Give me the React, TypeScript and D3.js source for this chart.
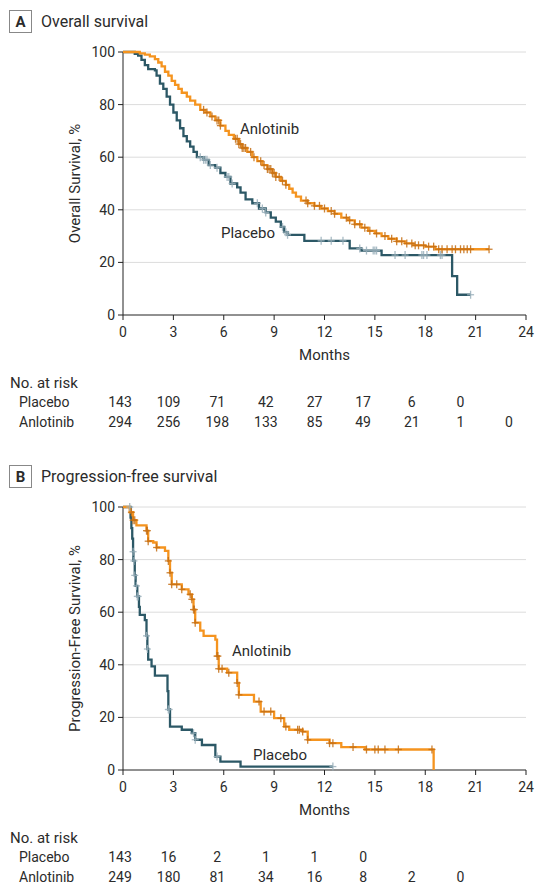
import React from "react";
import * as d3 from "d3";

// ---------- DATA ----------
const monthTicks = [0, 3, 6, 9, 12, 15, 18, 21, 24];
const pctTicks = [0, 20, 40, 60, 80, 100];
const gridTicks = [20, 40, 60, 80, 100];

// Panel A – overall survival, step points [month, %]
const osAnlotinib: [number, number][] = [
  [0, 100], [1.0, 99.5], [1.3, 99], [1.6, 98.3], [1.9, 97.3], [2.1, 96], [2.3, 94.5], [2.5, 92.5],
  [2.7, 91], [2.9, 89], [3.1, 87.5], [3.3, 86], [3.5, 84.5], [3.8, 83], [4.0, 81.5], [4.3, 80],
  [4.6, 78], [4.9, 77], [5.2, 75.5], [5.5, 74], [5.8, 72], [6.1, 70], [6.3, 68.5], [6.6, 67],
  [6.9, 65], [7.1, 63.5], [7.4, 62], [7.7, 60], [8.0, 58.5], [8.3, 57], [8.6, 55.5], [8.9, 54],
  [9.1, 52.5], [9.4, 51], [9.7, 49.5], [9.9, 48], [10.1, 46.5], [10.3, 45], [10.6, 43.5],
  [11.0, 42.5], [11.4, 41.5], [11.8, 40.5], [12.2, 39.5], [12.6, 38.5], [13.0, 37], [13.4, 36],
  [13.8, 34.5], [14.2, 33.2], [14.6, 32], [15.0, 31], [15.4, 30], [15.8, 29], [16.3, 28],
  [16.8, 27.2], [17.3, 26.5], [18.0, 26], [18.6, 25], [21.8, 25],
];
const osPlacebo: [number, number][] = [
  [0, 100], [0.7, 99.3], [0.9, 98.6], [1.1, 97], [1.3, 95], [1.5, 93.5], [1.9, 93], [2.0, 91],
  [2.2, 88], [2.4, 86], [2.6, 83], [2.8, 80], [3.0, 77], [3.2, 74], [3.4, 71], [3.6, 68],
  [3.8, 66], [4.0, 64], [4.2, 62], [4.4, 60], [4.8, 59], [5.1, 57], [5.5, 56], [5.8, 54],
  [6.1, 52.5], [6.4, 50], [6.8, 48.5], [7.0, 46.5], [7.3, 44], [7.7, 42.5], [8.1, 40.5],
  [8.5, 39], [8.8, 37], [9.1, 35.5], [9.4, 33.5], [9.6, 31.5], [9.8, 30.5], [10.8, 28.2],
  [13.5, 25.3], [14.2, 24.5], [15.4, 22.8], [19.6, 14.8], [19.9, 7.7], [20.7, 7.7],
];
const osAnlotinibCensor = [
  4.8, 5.0, 5.3, 5.6, 5.7, 5.8, 6.7, 6.8, 6.9, 7.0, 7.1, 7.2, 7.3, 7.6, 7.8, 8.2, 8.4, 8.6, 8.7,
  8.8, 8.9, 9.0, 9.1, 9.3, 9.5, 9.7, 10.9, 11.0, 11.4, 11.7, 12.0, 12.4, 12.6, 13.3, 13.5, 13.8,
  14.1, 14.4, 14.7, 15.1, 15.6, 16.0, 16.3, 16.6, 16.9, 17.2, 17.4, 17.6, 17.9, 18.2, 18.5, 18.8,
  19.0, 19.3, 19.6, 19.8, 20.1, 20.3, 20.5, 20.7, 21.8,
];
const osPlaceboCensor = [
  4.6, 4.8, 4.9, 5.0, 5.2, 5.6, 6.2, 6.3, 6.5, 8.0, 8.3, 8.5, 9.5, 9.7, 9.8, 11.8, 12.4, 13.1,
  14.1, 14.5, 14.9, 15.0, 15.1, 16.2, 16.8, 17.8, 17.9, 18.1, 18.9, 19.0, 20.7,
];

// Panel B – progression-free survival
const pfsAnlotinib: [number, number][] = [
  [0, 100], [0.4, 98], [0.6, 95], [0.8, 93], [1.4, 91], [1.5, 87], [1.8, 86.5], [2.0, 84.6],
  [2.5, 83.3], [2.7, 79.5], [2.8, 75], [2.9, 70.6], [3.5, 68.7], [3.9, 66.8], [4.1, 64.9],
  [4.2, 61], [4.3, 56], [4.6, 53], [4.8, 51], [5.5, 49.6], [5.6, 43.3], [5.7, 38.5], [6.2, 37],
  [6.8, 33.1], [6.9, 28.6], [7.8, 26], [8.2, 22.2], [9.0, 19.7], [9.6, 16.5], [9.9, 15.3],
  [10.7, 14.6], [11.0, 11.5], [12.3, 10.2], [13.0, 8.7], [14.4, 7.8], [18.5, 0],
];
const pfsPlacebo: [number, number][] = [
  [0, 100], [0.45, 96], [0.5, 92], [0.55, 88], [0.6, 83], [0.62, 79.5], [0.7, 74], [0.75, 70],
  [0.85, 66], [0.95, 62], [1.0, 59], [1.3, 57], [1.4, 51], [1.45, 46], [1.5, 42], [1.7, 39.4],
  [1.9, 35.9], [2.65, 30], [2.7, 23], [2.8, 16.5], [3.5, 15.3], [4.1, 14], [4.3, 11.5],
  [4.7, 9.5], [5.5, 5.1], [5.8, 3.2], [7.0, 1.3], [12.5, 1.3],
];
const pfsAnlotinibCensor = [
  0.5, 0.6, 0.7, 1.4, 1.45, 1.5, 2.0, 2.7, 2.8, 2.9, 3.2, 3.5, 4.0, 4.1, 4.2, 4.25, 4.3, 5.6,
  5.65, 5.7, 5.9, 6.3, 6.8, 6.9, 8.1, 8.4, 8.8, 9.4, 9.7, 10.4, 10.5, 10.7, 11.0, 12.3, 12.5,
  13.7, 14.5, 15.0, 15.2, 15.6, 16.4, 18.4,
];
const pfsPlaceboCensor = [0.4, 0.6, 0.65, 0.7, 0.8, 0.85, 0.9, 1.4, 1.45, 2.7, 2.75, 4.2, 4.3, 5.6, 12.5];

// Numbers at risk
const riskMonths = [0, 3, 6, 9, 12, 15, 18, 21, 24];
const osRiskPlacebo = ["143", "109", "71", "42", "27", "17", "6", "0"];
const osRiskAnlotinib = ["294", "256", "198", "133", "85", "49", "21", "1", "0"];
const pfsRiskPlacebo = ["143", "16", "2", "1", "1", "0"];
const pfsRiskAnlotinib = ["249", "180", "81", "34", "16", "8", "2", "0"];

// ---------- STYLE ----------
const ORANGE = "#f5941f";
const ORANGE_C = "#c46e14";
const TEAL = "#2c5866";
const TEAL_C = "#9ab0bb";
const TEXT = "#2b2b2b";
const FONT = "'Liberation Sans Narrow', 'Roboto', 'DejaVu Sans Condensed', sans-serif";

const x = d3.scaleLinear().domain([0, 24]).range([123, 526]);
const riskX = d3.scaleLinear().domain([0, 24]).range([120, 509]);

function valueAt(series: [number, number][], t: number) {
  let v = series[0][1];
  for (const [tt, s] of series) {
    if (tt <= t) v = s;
    else break;
  }
  return v;
}

function Censors({ times, series, y, color }: any) {
  return (
    <g stroke={color} strokeWidth={1.3} opacity={0.85}>
      {times.map((t: number, i: number) => {
        const cx = x(t);
        const cy = y(valueAt(series, t));
        return (
          <g key={i}>
            <line x1={cx - 3.5} x2={cx + 3.5} y1={cy} y2={cy} />
            <line x1={cx} x2={cx} y1={cy - 4} y2={cy + 4} />
          </g>
        );
      })}
    </g>
  );
}

function Panel({
  top, letter, title, yLabel, anl, pla, anlC, plaC, riskP, riskA, anlLabel, plaLabel,
}: any) {
  const y0 = top + 50;
  const y1 = top + 313;
  const y = d3.scaleLinear().domain([0, 100]).range([y1, y0]);
  const line = d3
    .line<[number, number]>()
    .x((d) => x(d[0]))
    .y((d) => y(d[1]))
    .curve(d3.curveStepAfter);
  return (
    <g>
      <rect x={9.5} y={top + 8.5} width={22} height={22} fill="#fff" stroke="#888" strokeWidth={1} />
      <text x={20.5} y={top + 25} textAnchor="middle" fontWeight="bold" fontSize={15} fill={TEXT}>
        {letter}
      </text>
      <text x={41} y={top + 25} fontSize={16} fill={TEXT}>
        {title}
      </text>
      {gridTicks.map((g) => (
        <line key={g} x1={x(0)} x2={x(24)} y1={y(g)} y2={y(g)} stroke="#dcdcdc" strokeWidth={1} />
      ))}
      {/* axes */}
      <line x1={x(0)} x2={x(0)} y1={y(100)} y2={y(0)} stroke="#222" strokeWidth={1} />
      <line x1={x(0)} x2={x(24)} y1={y(0)} y2={y(0)} stroke="#222" strokeWidth={1} />
      {pctTicks.map((p) => (
        <g key={p}>
          <line x1={x(0) - 5} x2={x(0)} y1={y(p)} y2={y(p)} stroke="#222" />
          <text x={x(0) - 8} y={y(p) + 5} textAnchor="end" fontSize={14} fill={TEXT}>
            {p}
          </text>
        </g>
      ))}
      {monthTicks.map((m) => (
        <g key={m}>
          <line x1={x(m)} x2={x(m)} y1={y(0)} y2={y(0) + 5} stroke="#222" />
          <text x={x(m)} y={y(0) + 22} textAnchor="middle" fontSize={14} fill={TEXT}>
            {m}
          </text>
        </g>
      ))}
      <text x={x(12)} y={y(0) + 45} textAnchor="middle" fontSize={15} fill={TEXT}>
        Months
      </text>
      <text
        transform={`translate(80,${(y0 + y1) / 2}) rotate(-90)`}
        textAnchor="middle"
        fontSize={15}
        fill={TEXT}
      >
        {yLabel}
      </text>
      {/* curves */}
      <path d={line(pla) || ""} fill="none" stroke={TEAL} strokeWidth={2.3} />
      <path d={line(anl) || ""} fill="none" stroke={ORANGE} strokeWidth={2.3} />
      <Censors times={plaC} series={pla} y={y} color={TEAL_C} />
      <Censors times={anlC} series={anl} y={y} color={ORANGE_C} />
      <text x={anlLabel[0]} y={anlLabel[1]} fontSize={15} fill={TEXT}>
        Anlotinib
      </text>
      <text x={plaLabel[0]} y={plaLabel[1]} fontSize={15} fill={TEXT}>
        Placebo
      </text>
      {/* risk table */}
      <text x={10} y={top + 386} fontSize={15} fill={TEXT}>
        No. at risk
      </text>
      <text x={19} y={top + 405} fontSize={14} fill={TEXT}>
        Placebo
      </text>
      <text x={19} y={top + 425} fontSize={14} fill={TEXT}>
        Anlotinib
      </text>
      {riskP.map((v: string, i: number) => (
        <text key={"p" + i} x={riskX(riskMonths[i])} y={top + 405} textAnchor="middle" fontSize={14} fill={TEXT}>
          {v}
        </text>
      ))}
      {riskA.map((v: string, i: number) => (
        <text key={"a" + i} x={riskX(riskMonths[i])} y={top + 425} textAnchor="middle" fontSize={14} fill={TEXT}>
          {v}
        </text>
      ))}
    </g>
  );
}

export default function App() {
  return (
    <svg
      width={536}
      height={884}
      style={{ position: "absolute", left: 0, top: 0, background: "#fff" }}
      fontFamily={FONT}
    >
      <rect width={536} height={884} fill="#fff" />
      <Panel
        top={2}
        letter="A"
        title="Overall survival"
        yLabel="Overall Survival, %"
        anl={osAnlotinib}
        pla={osPlacebo}
        anlC={osAnlotinibCensor}
        plaC={osPlaceboCensor}
        riskP={osRiskPlacebo}
        riskA={osRiskAnlotinib}
        anlLabel={[240, 134]}
        plaLabel={[221, 238]}
      />
      <Panel
        top={457}
        letter="B"
        title="Progression-free survival"
        yLabel="Progression-Free Survival, %"
        anl={pfsAnlotinib}
        pla={pfsPlacebo}
        anlC={pfsAnlotinibCensor}
        plaC={pfsPlaceboCensor}
        riskP={pfsRiskPlacebo}
        riskA={pfsRiskAnlotinib}
        anlLabel={[232, 656]}
        plaLabel={[253, 760]}
      />
    </svg>
  );
}
